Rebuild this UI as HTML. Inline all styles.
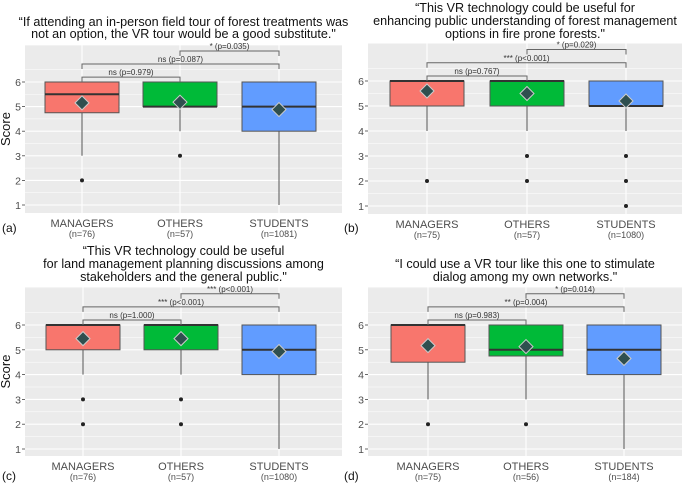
<!DOCTYPE html>
<html><head><meta charset="utf-8">
<style>
html,body{margin:0;padding:0;background:#fff;}
svg{display:block;font-family:"Liberation Sans",Arial,sans-serif;}
</style></head>
<body>
<svg id="fig" width="685" height="485" viewBox="0 0 685 485" xmlns="http://www.w3.org/2000/svg"></svg>
<script>
// ---- data ----
const categories = ["MANAGERS","OTHERS","STUDENTS"];
const yTicks = [1,2,3,4,5,6];
const titlesA = ["\u201cIf attending an in-person field tour of forest treatments was","not an option, the VR tour would be a good substitute.\""];
const titlesB = ["\u201cThis VR technology could be useful for","enhancing public understanding of forest management","options in fire prone forests.\""];
const titlesC = ["\u201cThis VR technology could be useful","for land management planning discussions among","stakeholders and the general public.\""];
const titlesD = ["\u201cI could use a VR tour like this one to stimulate","dialog among my own networks.\""];
const nA = ["(n=76)","(n=57)","(n=1081)"];
const nB = ["(n=75)","(n=57)","(n=1080)"];
const nC = ["(n=76)","(n=57)","(n=1080)"];
const nD = ["(n=75)","(n=56)","(n=184)"];
// [q1, median, q3, whiskerLow, whiskerHigh]
const boxesA = [[4.75,5.5,6,3,6],[5,5,6,4,6],[4,5,6,1,6]];
const boxesB = [[5,6,6,4,6],[5,6,6,4,6],[5,5,6,4,6]];
const boxesC = [[5,6,6,4,6],[5,6,6,4,6],[4,5,6,1,6]];
const boxesD = [[4.5,6,6,3,6],[4.75,5,6,3,6],[4,5,6,1,6]];
const meansA = [5.15,5.18,4.88];
const meansB = [5.6,5.5,5.2];
const meansC = [5.45,5.45,4.93];
const meansD = [5.17,5.13,4.65];
const outliersA = [[2],[3],[]];
const outliersB = [[2],[3,2],[3,2,1]];
const outliersC = [[3,2],[3,2],[]];
const outliersD = [[2],[2],[]];
const statsA = ["ns (p=0.979)","ns (p=0.087)","* (p=0.035)"];
const statsB = ["ns (p=0.767)","*** (p<0.001)","* (p=0.029)"];
const statsC = ["ns (p=1.000)","*** (p<0.001)","*** (p<0.001)"];
const statsD = ["ns (p=0.983)","** (p=0.004)","* (p=0.014)"];
const colors = ["#F8766D","#00BA38","#619CFF"];

const NS="http://www.w3.org/2000/svg";
const svg=document.getElementById('fig');
function mk(tag,attrs,parent){const e=document.createElementNS(NS,tag);for(const k in attrs)e.setAttribute(k,attrs[k]);(parent||svg).appendChild(e);return e;}

const panels=[
 {id:"a",x0:25,x1:342,top:45,bot:213,y6:82,y1:205,cx:[82,180,279],titles:titlesA,tY:[21,33],n:nA,boxes:boxesA,means:meansA,out:outliersA,stats:statsA,lx:8,ly:232,score:true},
 {id:"b",x0:368,x1:682,top:43,bot:214,y6:81,y1:206,cx:[427,527,626],titles:titlesB,tY:[7,20,33],n:nB,boxes:boxesB,means:meansB,out:outliersB,stats:statsB,lx:350,ly:232,score:false},
 {id:"c",x0:25,x1:342,top:287,bot:456,y6:325,y1:449,cx:[83,181,279],titles:titlesC,tY:[250,263,276],n:nC,boxes:boxesC,means:meansC,out:outliersC,stats:statsC,lx:8,ly:480,score:true},
 {id:"d",x0:368,x1:682,top:287,bot:456,y6:325,y1:449,cx:[428,526,624],titles:titlesD,tY:[263,276],n:nD,boxes:boxesD,means:meansD,out:outliersD,stats:statsD,lx:350,ly:480,score:false}
];

panels.forEach(p=>{
 const g=mk('g',{});
 
 
 const ys=v=>p.y1+(v-1)*(p.y6-p.y1)/5;
 const bg=mk('rect',{x:p.x0,y:p.top,width:p.x1-p.x0,height:p.bot-p.top,fill:'#EBEBEB'},g);
 
 
 for(let v=0.5;v<=7.5;v+=1){const y=ys(v);if(y>p.top&&y<p.bot)mk('line',{x1:p.x0,x2:p.x1,y1:y,y2:y,stroke:'#fff','stroke-width':0.5},g);}
 yTicks.forEach(v=>{const y=ys(v);mk('line',{x1:p.x0,x2:p.x1,y1:y,y2:y,stroke:'#fff','stroke-width':1.1},g);
  mk('line',{x1:p.x0-3,x2:p.x0,y1:y,y2:y,stroke:'#444','stroke-width':0.8},g);
  const t=mk('text',{x:p.x0-4,y:y+4,'text-anchor':'end','font-size':10.5,fill:'#4d4d4d'},g);t.textContent=v;
  
  });
 p.cx.forEach(x=>mk('line',{x1:x,x2:x,y1:p.top,y2:p.bot,stroke:'#fff','stroke-width':1.1},g));
 p.titles.forEach((s,i)=>{const t=mk('text',{x:(p.x0+p.x1)/2,y:p.tY[i]+5,'text-anchor':'middle','font-size':12.6,fill:'#111'},g);t.textContent=s;
  
  });
 const hw=37;
 p.boxes.forEach((b,i)=>{
  const x=p.cx[i];
  mk('line',{x1:x,x2:x,y1:ys(b[3]),y2:ys(b[0]),stroke:'#555','stroke-width':1},g);
  mk('line',{x1:x,x2:x,y1:ys(b[2]),y2:ys(b[4]),stroke:'#555','stroke-width':1},g);
  const r=mk('rect',{x:x-hw,y:ys(b[2]),width:hw*2,height:Math.max(ys(b[0])-ys(b[2]),0.5),fill:colors[i],stroke:'#555','stroke-width':1},g);
  
  
  mk('line',{x1:x-hw,x2:x+hw,y1:ys(b[1]),y2:ys(b[1]),stroke:'#333','stroke-width':2},g);
  p.out[i].forEach(o=>{const c=mk('circle',{cx:x,cy:ys(o),r:2,fill:'#222'},g);
   
   });
  const my=ys(p.means[i]);
  const d=mk('polygon',{points:`${x},${my-7} ${x+7},${my} ${x},${my+7} ${x-7},${my}`,fill:'#2F4F4F',stroke:'#ccc','stroke-width':1},g);
  
  
  const t1=mk('text',{x:x,y:p.bot+14,'text-anchor':'middle','font-size':11,fill:'#4d4d4d'},g);t1.textContent=categories[i];
  
  
  const t2=mk('text',{x:x,y:p.bot+24,'text-anchor':'middle','font-size':9,fill:'#4d4d4d'},g);t2.textContent=p.n[i];
  
  
 });
 const pairs=[[0,1,6.2],[0,2,6.73],[1,2,7.26]];
 pairs.forEach((pr,k)=>{
  const y=ys(pr[2]),xa=p.cx[pr[0]],xb=p.cx[pr[1]];
  const pl=mk('polyline',{points:`${xa},${y+5} ${xa},${y} ${xb},${y} ${xb},${y+5}`,fill:'none',stroke:'#666','stroke-width':1},g);
  
  
  const t=mk('text',{x:(xa+xb)/2,y:y-2,'text-anchor':'middle','font-size':8,fill:'#333'},g);t.textContent=p.stats[k];
  
  
 });
 if(p.score){const t=mk('text',{x:0,y:0,'text-anchor':'middle','font-size':13,fill:'#111',transform:`translate(10,${(p.top+p.bot)/2}) rotate(-90)`},g);t.textContent='Score';
  
  }
 const L=mk('text',{x:p.lx-6,y:p.ly,'font-size':12,fill:'#111'},g);L.textContent='('+p.id+')';
 
 
});
</script>
</body></html>
